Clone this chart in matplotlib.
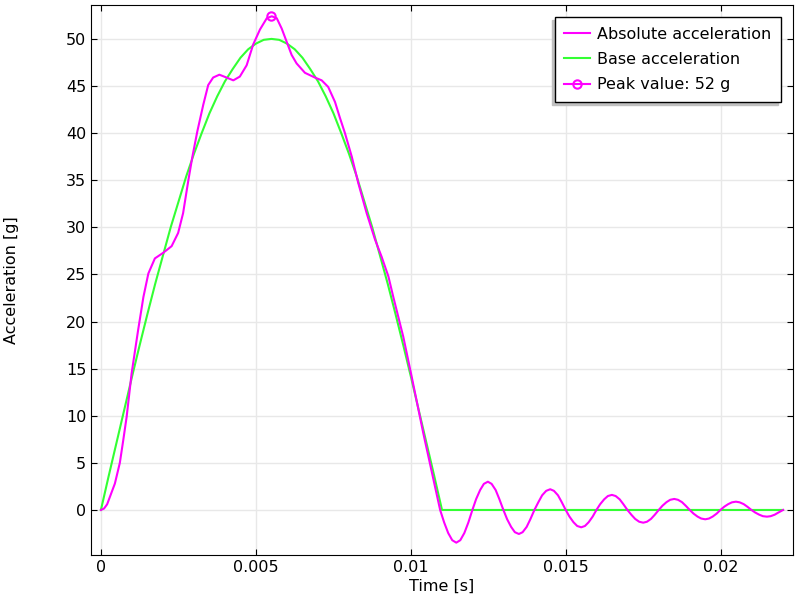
import numpy as np
import matplotlib.pyplot as plt

# Absolute acceleration during the pulse
t_pulse = [0, 0.0001, 0.0002, 0.00029, 0.00045, 0.00061, 0.00072, 0.00083, 0.00099,
           0.0012, 0.00137, 0.00153, 0.00174, 0.00201, 0.00228, 0.00249, 0.00265,
           0.00282, 0.00295, 0.00311, 0.0033, 0.00346, 0.00362, 0.00382, 0.00405,
           0.00427, 0.00448, 0.0047, 0.00491, 0.00513, 0.00535, 0.00551, 0.00567,
           0.00583, 0.00599, 0.00615, 0.00631, 0.00658, 0.0069, 0.00712, 0.00733,
           0.00755, 0.00771, 0.00787, 0.00809, 0.0083, 0.00857, 0.00884, 0.00905,
           0.00927, 0.00943, 0.00975, 0.01, 0.0102, 0.0104, 0.0106, 0.0108]
a_pulse = [0, 0.15, 0.6, 1.4, 2.8, 5.0, 7.4, 9.9, 14.5,
           19.1, 22.6, 25.1, 26.7, 27.3, 28.0, 29.4, 31.5,
           35.0, 37.5, 40.2, 43.0, 45.1, 45.9, 46.2, 45.9,
           45.6, 46.0, 47.2, 49.4, 51.0, 52.2, 52.4, 52.2,
           51.1, 49.7, 48.3, 47.4, 46.4, 45.9, 45.6, 44.9,
           43.3, 41.6, 40.0, 37.5, 34.7, 31.5, 28.7, 26.9,
           24.8, 22.6, 18.4, 14.5, 11.3, 8.1, 5.1, 2.1]

# Residual ringing after the pulse
t_ring = [0.01094, 0.01107, 0.0112, 0.01133, 0.01146, 0.01159, 0.01172, 0.01185,
          0.01198, 0.0121, 0.01223, 0.01235, 0.01248, 0.0126, 0.01273, 0.01285,
          0.01298, 0.0131, 0.01323, 0.01335, 0.01348, 0.0136, 0.01373, 0.01385,
          0.01398, 0.01411, 0.01423, 0.01436, 0.01449, 0.01461, 0.01474, 0.01486,
          0.01499, 0.01511, 0.01524, 0.01536, 0.01549, 0.01561, 0.01573, 0.01586,
          0.01598, 0.0161, 0.01623, 0.01635, 0.01648, 0.0166, 0.01673, 0.01685,
          0.01698, 0.01711, 0.01723, 0.01736, 0.01749, 0.01761, 0.01774, 0.01786,
          0.01799, 0.01811, 0.01824, 0.01836, 0.01849, 0.01861, 0.01874, 0.01886,
          0.01899, 0.01911, 0.01924, 0.01936, 0.01949, 0.01961, 0.01973, 0.01986,
          0.01998, 0.0201, 0.02023, 0.02035, 0.02048, 0.0206, 0.02073, 0.02085,
          0.02098, 0.0211, 0.02123, 0.02135, 0.02148, 0.0216, 0.02173, 0.02185, 0.022]
a_ring = [0, -1.33, -2.45, -3.21, -3.47, -3.21, -2.45, -1.33,
          0, 1.15, 2.12, 2.77, 3.0, 2.77, 2.12, 1.15,
          0, -0.98, -1.80, -2.36, -2.55, -2.36, -1.80, -0.98,
          0, 0.84, 1.56, 2.03, 2.2, 2.03, 1.56, 0.84,
          0, -0.70, -1.30, -1.70, -1.84, -1.70, -1.30, -0.70,
          0, 0.61, 1.13, 1.48, 1.6, 1.48, 1.13, 0.61,
          0, -0.52, -0.95, -1.25, -1.35, -1.25, -0.95, -0.52,
          0, 0.45, 0.83, 1.08, 1.17, 1.08, 0.83, 0.45,
          0, -0.38, -0.70, -0.91, -0.99, -0.91, -0.70, -0.38,
          0, 0.34, 0.62, 0.81, 0.88, 0.81, 0.62, 0.34,
          0, -0.27, -0.50, -0.66, -0.71, -0.66, -0.50, -0.27, 0]

# Base acceleration (half-sine pulse)
t_base = [0.00025 * k for k in range(45)] + [0.022]
a_base = [0, 3.6, 7.1, 10.6, 14.1, 17.5, 20.8, 24.0, 27.0, 30.0, 32.7, 35.4,
          37.8, 40.0, 42.1, 43.9, 45.5, 46.8, 48.0, 48.9, 49.5, 49.9, 50.0,
          49.9, 49.5, 48.9, 48.0, 46.8, 45.5, 43.9, 42.1, 40.0, 37.8, 35.4,
          32.7, 30.0, 27.0, 24.0, 20.8, 17.5, 14.1, 10.6, 7.1, 3.6, 0, 0]

peak_t = 0.0055
peak_a = 52.4

x_ticks = [0, 0.005, 0.01, 0.015, 0.02]
x_ticklabels = ['0', '0.005', '0.01', '0.015', '0.02']
y_ticks = list(range(0, 55, 5))

t_abs = t_pulse + t_ring
a_abs = a_pulse + a_ring

fs = 11.5
fig = plt.figure(figsize=(8, 6), dpi=100)
ax = fig.add_axes([0.11375, 0.075, 0.8775, 0.9167])

ax.plot(t_abs, a_abs, color='#ff00ff', lw=1.5, label='Absolute acceleration', zorder=3)
ax.plot(t_base, a_base, color='#33ff33', lw=1.5, label='Base acceleration', zorder=2)
ax.plot([peak_t], [peak_a], color='#ff00ff', lw=1.5, marker='o', ms=6,
        mfc='none', mew=1.5, label='Peak value: 52 g', zorder=4)

ax.set_xlim(-0.00032, 0.02232)
ax.set_ylim(-4.78, 53.6)
ax.set_xticks(x_ticks)
ax.set_xticklabels(x_ticklabels)
ax.set_yticks(y_ticks)
ax.tick_params(direction='in', top=True, right=True, labelsize=fs, length=4)
ax.grid(True, color='#e8e8e8', lw=1)
ax.set_axisbelow(True)

ax.set_xlabel('Time [s]', fontsize=fs, labelpad=3)
ax.set_ylabel('Acceleration [g]', fontsize=fs, labelpad=34)

leg = ax.legend(loc='upper right', fancybox=False, framealpha=1,
                shadow={'ox': -2.2, 'oy': -2.2, 'color': '#c0c0c0', 'alpha': 1},
                edgecolor='black', fontsize=fs, handlelength=1.6,
                handletextpad=0.45, borderaxespad=0.75, labelspacing=0.65,
                borderpad=0.6)
leg.get_frame().set_linewidth(1)

fig.savefig('out.png', dpi=100)
